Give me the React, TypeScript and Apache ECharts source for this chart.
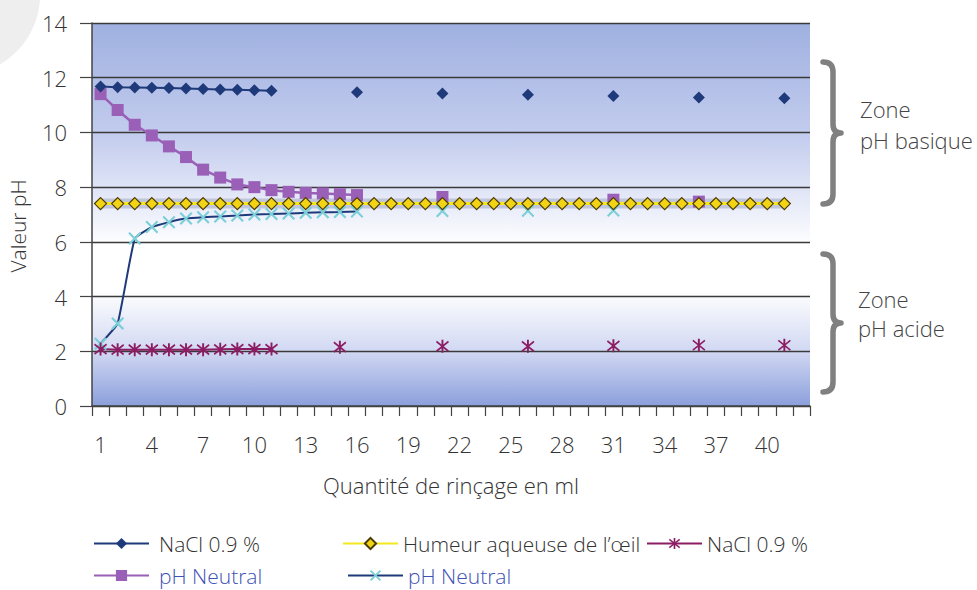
import React, { useEffect, useRef } from "react";
import * as echarts from "echarts";

const categories = [
  "1", "2", "3", "4", "5", "6", "7", "8", "9", "10", "11", "12", "13", "14",
  "15", "16", "17", "18", "19", "20", "21", "22", "23", "24", "25", "26", "27", "28",
  "29", "30", "31", "32", "33", "34", "35", "36", "37", "38", "39", "40", "41", "42",
];

const yTicks = { min: 0, max: 14, interval: 2 };

const naclBasique = [
  11.68, 11.65, 11.64, 11.63, 11.62, 11.61, 11.59, 11.57, 11.56, 11.54, 11.52,
  null, null, null, null, 11.47, null, null, null, null, 11.42, null, null, null, null,
  11.38, null, null, null, null, 11.33, null, null, null, null, 11.28, null, null, null, null, 11.25,
];

const phNeutralViolet = [
  11.4, 10.82, 10.28, 9.89, 9.49, 9.1, 8.64, 8.35, 8.1, 8.0, 7.89, 7.83, 7.79, 7.77, 7.74, 7.71,
  null, null, null, null, 7.64, null, null, null, null, null, null, null, null, null,
  7.54, null, null, null, null, 7.47,
];

const humeur = [
  7.4, 7.4, 7.4, 7.4, 7.4, 7.4, 7.4, 7.4, 7.4, 7.4, 7.4, 7.4, 7.4, 7.4,
  7.4, 7.4, 7.4, 7.4, 7.4, 7.4, 7.4, 7.4, 7.4, 7.4, 7.4, 7.4, 7.4, 7.4,
  7.4, 7.4, 7.4, 7.4, 7.4, 7.4, 7.4, 7.4, 7.4, 7.4, 7.4, 7.4, 7.4,
];

const naclAcide = [
  2.08, 2.06, 2.06, 2.06, 2.06, 2.06, 2.06, 2.07, 2.08, 2.08, 2.08,
  null, null, null, 2.15, null, null, null, null, null, 2.18, null, null, null, null,
  2.18, null, null, null, null, 2.2, null, null, null, null, 2.22, null, null, null, null, 2.22,
];

const phNeutralCyan = [
  2.28, 3.02, 6.12, 6.54, 6.72, 6.85, 6.9, 6.93, 6.96, 7.0, 7.02, 7.04, 7.06, 7.08, 7.09, 7.11,
  null, null, null, null, 7.13, null, null, null, null, 7.14, null, null, null, null, 7.15,
];

const names = {
  naclBasique: "NaCl 0.9 %",
  humeur: "Humeur aqueuse de l’œil",
  naclAcide: "NaCl 0.9 % ",
  violet: "pH Neutral",
  cyan: "pH Neutral ",
};

const FONT = "'Open Sans', 'Liberation Sans', sans-serif";

const braceTopH = 142;
const braceBotH = 138;
const braceD = (h: number) =>
  `M0 0 Q10 0 10 10 L10 ${h / 2 - 9} Q10 ${h / 2} 18 ${h / 2} Q10 ${h / 2} 10 ${h / 2 + 9} L10 ${h - 10} Q10 ${h} 0 ${h}`;

echarts.graphic.registerShape("braceTop", echarts.graphic.extendPath(braceD(braceTopH), {}) as any);
echarts.graphic.registerShape("braceBot", echarts.graphic.extendPath(braceD(braceBotH), {}) as any);

const asterisk =
  "path://M-1,-7 L1,-7 L1,7 L-1,7 Z M-6.8,-4.5 L-5.8,-6 L6.8,4.5 L5.8,6 Z M-6.8,4.5 L5.8,-6 L6.8,-4.5 L-5.8,6 Z";
const crossX = "path://M-6,-4.6 L-4.6,-6 L6,4.6 L4.6,6 Z M-6,4.6 L4.6,-6 L6,-4.6 L-4.6,6 Z";

export default function App() {
  const ref = useRef<HTMLDivElement>(null);
  useEffect(() => {
    if (!ref.current) return;
    const chart = echarts.init(ref.current, null, { renderer: "svg" });
    const labelStyle = { fontFamily: FONT, fontWeight: 300 as any, color: "#333", fontSize: 22 };
    const legendText = (color: string, gap: number) => ({
      ...labelStyle,
      color,
      fontSize: 21,
      padding: [0, 0, 0, gap],
    });
    const legendBase = {
      itemWidth: 55,
      itemHeight: 14,
      padding: 0,
      formatter: (n: string) => n.trim(),
    };
    const grey = "#333";
    const blue = "#3d52b4";
    chart.setOption({
      animation: false,
      backgroundColor: "#ffffff",
      textStyle: { fontFamily: FONT },
      grid: {
        left: 92,
        right: 167,
        top: 23,
        bottom: 184,
        show: true,
        borderWidth: 0,
        backgroundColor: {
          type: "linear",
          x: 0, y: 0, x2: 0, y2: 1,
          colorStops: [
            { offset: 0, color: "#9fb0e0" },
            { offset: 0.3, color: "#c4cdee" },
            { offset: 0.5, color: "#edf0fa" },
            { offset: 0.58, color: "#ffffff" },
            { offset: 0.7, color: "#ffffff" },
            { offset: 0.86, color: "#d0d7f2" },
            { offset: 1, color: "#8b9fdb" },
          ],
        },
      },
      xAxis: {
        type: "category",
        data: categories,
        boundaryGap: true,
        axisLine: { lineStyle: { color: "#444", width: 1.5 } },
        axisTick: { show: true, interval: 0, length: 10, lineStyle: { color: "#444", width: 1.2 } },
        axisLabel: { ...labelStyle, interval: 2, margin: 27 },
        splitLine: { show: false },
        name: "Quantité de rinçage en ml",
        nameLocation: "middle",
        nameGap: 68,
        nameTextStyle: { ...labelStyle },
      },
      yAxis: {
        type: "value",
        min: yTicks.min,
        max: yTicks.max,
        interval: yTicks.interval,
        axisLine: { show: true, lineStyle: { color: "#444", width: 1.5 } },
        axisTick: { show: true, length: 12, lineStyle: { color: "#444", width: 1.2 } },
        axisLabel: { ...labelStyle, margin: 25 },
        splitLine: { show: true, lineStyle: { color: "#3a3a3a", width: 1.3 } },
      },
      legend: [
        { ...legendBase, textStyle: legendText(grey, 5), data: [{ name: names.naclBasique }], left: 93, top: 533 },
        { ...legendBase, textStyle: legendText(grey, 0), data: [{ name: names.humeur }], left: 342, top: 533 },
        { ...legendBase, textStyle: legendText(grey, 0), data: [{ name: names.naclAcide }], left: 646, top: 533 },
        { ...legendBase, textStyle: legendText(blue, 5), data: [{ name: names.violet }], left: 93, top: 565 },
        { ...legendBase, textStyle: legendText(blue, 0), data: [{ name: names.cyan }], left: 347, top: 565 },
      ],
      graphic: [
        { type: "circle", shape: { cx: -40, cy: -5, r: 80 }, style: { fill: "#eeeeee" }, z: -10 },
        {
          type: "text",
          x: 18,
          y: 226,
          rotation: Math.PI / 2,
          style: {
            text: "Valeur pH",
            fontSize: 21,
            fontFamily: FONT,
            fontWeight: 300,
            fill: "#333",
            align: "center",
            verticalAlign: "middle",
          },
        },
        {
          type: "braceTop",
          x: 823,
          y: 62,
          style: { stroke: "#808080", lineWidth: 5.5, fill: null, lineCap: "round", lineJoin: "round" },
        },
        {
          type: "braceBot",
          x: 823,
          y: 254,
          style: { stroke: "#808080", lineWidth: 5.5, fill: null, lineCap: "round", lineJoin: "round" },
        },
        ...[
          { t: "Zone", x: 860, y: 109 },
          { t: "pH basique", x: 860, y: 140 },
          { t: "Zone", x: 858, y: 299 },
          { t: "pH acide", x: 858, y: 328 },
        ].map((d) => ({
          type: "text",
          x: d.x,
          y: d.y,
          style: {
            text: d.t,
            fontSize: 22,
            fontFamily: FONT,
            fontWeight: 300,
            fill: "#444",
            align: "left",
            verticalAlign: "middle",
          },
        })),
      ],
      series: [
        {
          name: "_halo",
          type: "line",
          data: humeur,
          showSymbol: false,
          silent: true,
          z: 1,
          lineStyle: { color: "rgba(188,193,214,0.9)", width: 10 },
        },
        {
          name: names.violet,
          type: "line",
          data: phNeutralViolet,
          symbol: "rect",
          symbolSize: 12,
          showAllSymbol: true,
          connectNulls: false,
          z: 2,
          itemStyle: { color: "#9a5fb6" },
          lineStyle: { color: "#9a5fb6", width: 2.5 },
        },
        {
          name: names.cyan,
          type: "line",
          data: phNeutralCyan,
          symbol: crossX,
          symbolSize: 13,
          showAllSymbol: true,
          smooth: 0.12,
          connectNulls: false,
          z: 2,
          itemStyle: { color: "#7ccfd8" },
          lineStyle: { color: "#1f3a7a", width: 2 },
        },
        {
          name: names.naclBasique,
          type: "line",
          data: naclBasique,
          symbol: "diamond",
          symbolSize: 12,
          showAllSymbol: true,
          connectNulls: false,
          z: 2,
          itemStyle: { color: "#1f3a7a" },
          lineStyle: { color: "#1f3a7a", width: 2 },
        },
        {
          name: names.naclAcide,
          type: "line",
          data: naclAcide,
          symbol: asterisk,
          symbolSize: 13,
          showAllSymbol: true,
          connectNulls: false,
          z: 2,
          itemStyle: { color: "#8c1d63" },
          lineStyle: { color: "#8c1d63", width: 2 },
        },
        {
          name: names.humeur,
          type: "line",
          data: humeur,
          symbol: "diamond",
          symbolSize: 12,
          showAllSymbol: true,
          z: 3,
          itemStyle: { color: "#f2d414", borderColor: "#4a3b00", borderWidth: 1.2 },
          lineStyle: { color: "#f4e81e", width: 3 },
        },
      ],
    });
    return () => chart.dispose();
  }, []);
  return (
    <div
      ref={ref}
      style={{ position: "absolute", left: 0, top: 0, width: 977, height: 590 }}
    />
  );
}
